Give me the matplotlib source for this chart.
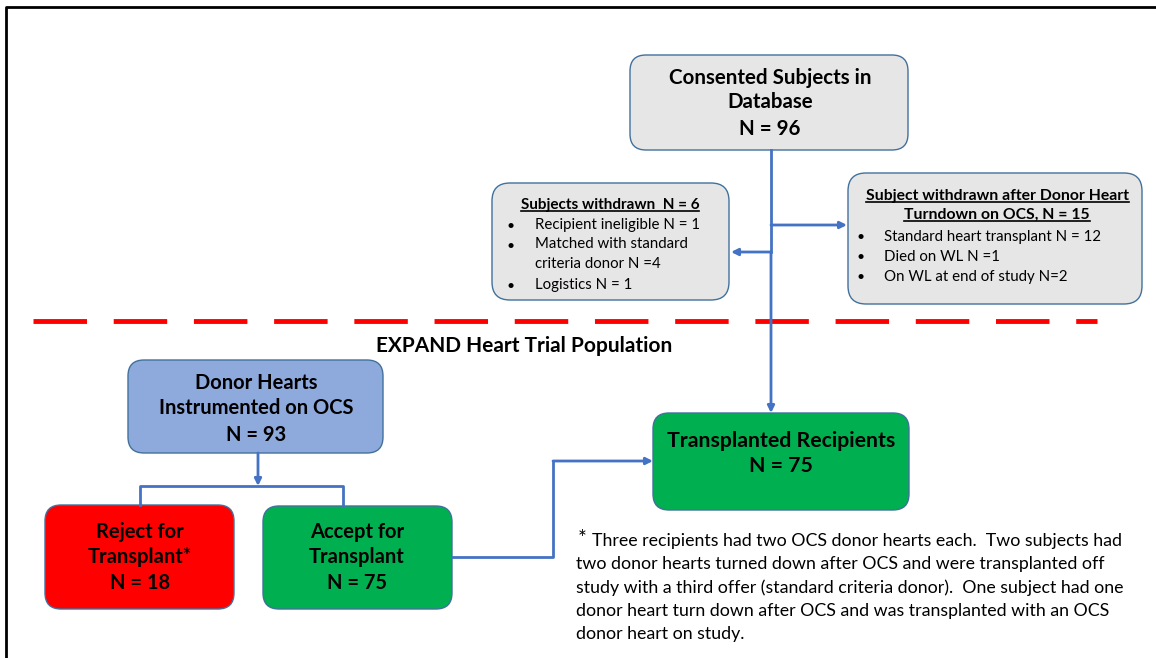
import matplotlib
matplotlib.use('Agg')
import matplotlib.pyplot as plt
from matplotlib.patches import FancyBboxPatch

plt.rcParams['font.family'] = ['Lato', 'DejaVu Sans']

# 文本数据
top_box = ['Consented Subjects in', 'Database', 'N = 96']
left_title = 'Subjects withdrawn  N = 6'
left_items = ['Recipient ineligible N = 1', 'Matched with standard\ncriteria donor N =4', 'Logistics N = 1']
right_title = ['Subject withdrawn after Donor Heart', 'Turndown on OCS, N = 15']
right_items = ['Standard heart transplant N = 12', 'Died on WL N =1', 'On WL at end of study N=2']
section_label = 'EXPAND Heart Trial Population'
donor_box = ['Donor Hearts', 'Instrumented on OCS', 'N = 93']
reject_box = ['Reject for', 'Transplant*', 'N = 18']
accept_box = ['Accept for', 'Transplant', 'N = 75']
recip_box = ['Transplanted Recipients', 'N = 75']
footnote = ['Three recipients had two OCS donor hearts each.  Two subjects had',
            'two donor hearts turned down after OCS and were transplanted off',
            'study with a third offer (standard criteria donor).  One subject had one',
            'donor heart turn down after OCS and was transplanted with an OCS',
            'donor heart on study.']

W, H = 1156, 658
fig = plt.figure(figsize=(W / 100, H / 100), dpi=100)
ax = fig.add_axes([0, 0, 1, 1])
ax.set_xlim(0, W)
ax.set_ylim(H, 0)
ax.axis('off')

blue = '#4472C4'
edge = '#41719C'


def box(x0, y0, x1, y1, fc, r=16):
    p = FancyBboxPatch((x0, y0), x1 - x0, y1 - y0,
                       boxstyle='round,pad=0,rounding_size=%d' % r,
                       fc=fc, ec=edge, lw=1.0)
    ax.add_patch(p)


def lines_text(cx, ys, lines, size=14.5, weight='bold', color='black'):
    for y, t in zip(ys, lines):
        ax.text(cx, y, t, ha='center', va='center', fontsize=size,
                fontweight=weight, color=color)


def arrow(x0, y0, x1, y1):
    ax.annotate('', xy=(x1, y1), xytext=(x0, y0),
                arrowprops=dict(arrowstyle='-|>', color=blue, lw=2,
                                mutation_scale=10, shrinkA=0, shrinkB=0))


def underline(t):
    fig.canvas.draw()
    bb = t.get_window_extent().transformed(ax.transData.inverted())
    x0, x1 = min(bb.x0, bb.x1), max(bb.x0, bb.x1)
    yb = max(bb.y0, bb.y1)
    ax.plot([x0, x1], [yb - 1, yb - 1], color='black', lw=1.2)


# 外框
ax.plot([6, 6, W], [H, 7, 7], color='black', lw=2)

# 连线
ax.plot([771, 771], [150, 252], color=blue, lw=2)
arrow(771, 252, 771, 413)
arrow(771, 252, 731, 252)
arrow(771, 225, 847, 225)
arrow(258, 453, 258, 486)
ax.plot([140, 140, 343, 343], [505, 486, 486, 505], color=blue, lw=2)
ax.plot([452, 553, 553], [557, 557, 461], color=blue, lw=2)
arrow(553, 461, 653, 461)

# 顶部框
box(630, 55, 908, 150, '#E7E6E6')
lines_text(770, [78, 102, 129], top_box, size=14.8)

# 左侧退出框
box(492, 183, 729, 300, '#E7E6E6', r=18)
t = ax.text(610, 205, left_title, ha='center', va='center', fontsize=11, fontweight='bold')
underline(t)
yl = 226
for item in left_items:
    ax.text(511, yl, '\u2022', ha='center', va='center', fontsize=10)
    ax.text(535, yl - 8.5, item, ha='left', va='top', fontsize=10.8, linespacing=1.5)
    yl += 20 * (item.count('\n') + 1)

# 右侧退出框
box(848, 173, 1142, 304, '#E7E6E6', r=18)
for y, s in zip([196, 215], right_title):
    t = ax.text(997, y, s, ha='center', va='center', fontsize=11.3, fontweight='bold')
    underline(t)
for y, item in zip([237, 257, 277], right_items):
    ax.text(861, y, '\u2022', ha='center', va='center', fontsize=10)
    ax.text(884, y, item, ha='left', va='center', fontsize=10.8)

# 红色虚线
ax.plot([33, 1097], [321, 321], color='#FF0000', lw=3.5, dashes=(11, 5.5))
ax.text(524, 346, section_label, ha='center', va='center', fontsize=15, fontweight='bold')

# 供体心脏框
box(128, 360, 383, 453, '#8EA9DB')
lines_text(256, [383, 408, 435], donor_box)

box(45, 505, 234, 609, '#FF0000')
lines_text(140, [532, 557, 583], reject_box)

box(263, 506, 452, 609, '#00B050')
lines_text(357, [532, 557, 583], accept_box)

box(653, 413, 909, 510, '#00B050')
lines_text(781, [441, 466], recip_box, size=15.3)

# 脚注
ax.text(582, 539, '*', ha='center', va='center', fontsize=15)
for i, s in enumerate(footnote):
    ax.text(592 if i == 0 else 576, 541 + i * 23.2, s, ha='left', va='center', fontsize=12.8)

fig.savefig('out.png', dpi=100)
